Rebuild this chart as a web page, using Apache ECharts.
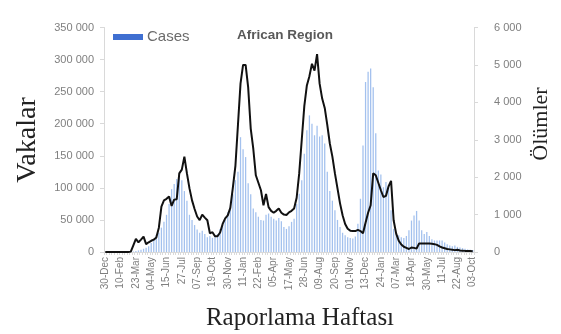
<!DOCTYPE html>
<html>
<head>
<meta charset="utf-8">
<script src="https://cdn.jsdelivr.net/npm/echarts@6/dist/echarts.min.js"></script>
<style>
html,body{margin:0;padding:0;background:#fff;}
#c{width:561px;height:334px;}
</style>
</head>
<body>
<div id="c"></div>
<script>
// Weekly reporting weeks start 30-Dec-2019, 145 weeks
const startDate = '2019-12-30';
const weekCount = 145;
const tickLabels = ['30-Dec','10-Feb','23-Mar','04-May','15-Jun','27-Jul','07-Sep','19-Oct','30-Nov','11-Jan','22-Feb','05-Apr','17-May','28-Jun','09-Aug','20-Sep','01-Nov','13-Dec','24-Jan','07-Mar','18-Apr','30-May','11-Jul','22-Aug','03-Oct'];

const cases = [
0,0,0,0,0,0,0,0,0,100,
300,800,1500,2500,3500,5000,6500,9000,14000,20000,
27000,30000,38000,47000,58000,75000,98000,106000,114000,118000,
112000,95000,80000,58000,50000,42000,35000,30000,33000,28000,
23000,25000,22000,24000,28000,36000,42000,50000,62000,70000,
90000,112000,125000,179000,160000,148000,107000,90000,68000,62000,
55000,50000,49000,58000,60000,55000,52000,49000,53000,48000,
39000,36000,40000,47000,52000,75000,91000,112000,153000,190000,
213000,200000,182000,197000,180000,182000,169000,125000,95000,80000,
65000,50000,39000,30000,26000,23000,22000,21000,24000,44000,
83000,166000,265000,281000,286000,257000,185000,127000,121000,101000,
109000,101000,65000,36000,29000,26000,23000,22000,25000,34000,
49000,57000,64000,49000,34000,28000,31000,25000,20000,18000,
18000,18000,18000,15000,12000,10000,9000,10000,8000,7000,
6000,5000,4000,3500,3000
];

const deaths = [
0,0,0,0,0,0,0,0,0,0,
10,180,350,260,330,410,210,260,300,330,
390,650,1210,1380,1420,1480,1230,1400,1410,2100,
2200,2550,2100,1700,1380,1150,950,850,1000,920,
850,500,530,420,420,520,750,900,980,1180,
1720,2300,3400,4500,5000,5000,4400,3300,2760,2050,
1850,1650,1250,1550,1200,1100,1050,1100,1160,1050,
1000,990,1060,1100,1160,1450,2100,3000,3900,4450,
4700,5030,4850,5290,4500,4100,3850,3400,2900,2550,
2100,1700,1300,980,750,620,570,560,560,590,
560,500,780,1050,1250,2100,2050,1850,1650,1470,
1500,1750,1900,850,490,300,200,140,110,80,
120,110,90,230,230,225,225,225,220,210,
190,150,120,100,80,70,60,50,60,40,
35,30,30,25,20
];

const months = ['Jan','Feb','Mar','Apr','May','Jun','Jul','Aug','Sep','Oct','Nov','Dec'];
const categories = [];
const d0 = new Date(startDate + 'T00:00:00Z');
for (let i = 0; i < weekCount; i++) {
  const d = new Date(d0.getTime() + i * 7 * 86400000);
  const dd = String(d.getUTCDate()).padStart(2, '0');
  categories.push(dd + '-' + months[d.getUTCMonth()]);
}

function spaced(v) {
  return String(v).replace(/\B(?=(\d{3})+(?!\d))/g, ' ');
}

const labelColor = '#7f7f7f';
const chart = echarts.init(document.getElementById('c'), null, {renderer: 'canvas'});
chart.setOption({
  animation: false,
  backgroundColor: '#fff',
  grid: {left: 104, right: 87, top: 27.5, bottom: 82, containLabel: false},
  legend: {show: false},
  xAxis: {
    type: 'category',
    data: categories,
    boundaryGap: true,
    axisLine: {show: true, lineStyle: {color: '#d9d9d9', width: 1}},
    axisTick: {show: true, interval: 0, length: 3, lineStyle: {color: '#d9d9d9'}},
    axisLabel: {
      interval: 5, rotate: 90, fontSize: 10, color: labelColor,
      fontFamily: 'Liberation Sans', margin: 5
    },
    splitLine: {show: false}
  },
  yAxis: [
    {
      type: 'value', min: 0, max: 350000, interval: 50000,
      axisLine: {show: true, lineStyle: {color: '#d9d9d9'}},
      axisTick: {show: true, length: 4, lineStyle: {color: '#d9d9d9'}},
      axisLabel: {color: labelColor, fontSize: 11, fontFamily: 'Liberation Sans', margin: 10, formatter: spaced},
      splitLine: {show: false}
    },
    {
      type: 'value', min: 0, max: 6000, interval: 1000,
      axisLine: {show: true, lineStyle: {color: '#d9d9d9'}},
      axisTick: {show: true, length: 4, lineStyle: {color: '#d9d9d9'}},
      axisLabel: {color: labelColor, fontSize: 11, fontFamily: 'Liberation Sans', margin: 20, formatter: spaced},
      splitLine: {show: false}
    }
  ],
  series: [
    {
      name: 'Cases', type: 'bar', data: cases, yAxisIndex: 0,
      barWidth: '50%',
      itemStyle: {color: '#a3c1ee'}
    },
    {
      name: 'Deaths', type: 'line', data: deaths, yAxisIndex: 1,
      symbol: 'none', smooth: false,
      lineStyle: {color: '#111', width: 2}
    }
  ],
  graphic: [
    {type: 'rect', left: 113, top: 34, shape: {width: 30, height: 6}, style: {fill: '#3f6fd1'}},
    {type: 'text', left: 147, top: 29, style: {text: 'Cases', fontSize: 15, fill: '#6b6b6b', fontFamily: 'Liberation Sans'}},
    {type: 'text', left: 237, top: 28, style: {text: 'African Region', fontSize: 13.5, fontWeight: 'bold', fill: '#595959', fontFamily: 'Liberation Sans'}},
    {type: 'text', x: 28, y: 140, rotation: Math.PI / 2,
      style: {text: 'Vakalar', fontSize: 28, fill: '#222', fontFamily: 'Liberation Serif', textAlign: 'center', textVerticalAlign: 'middle'}},
    {type: 'text', x: 541, y: 124, rotation: Math.PI / 2,
      style: {text: 'Ölümler', fontSize: 22, fill: '#222', fontFamily: 'Liberation Serif', textAlign: 'center', textVerticalAlign: 'middle'}},
    {type: 'text', x: 300, y: 318,
      style: {text: 'Raporlama Haftası', fontSize: 25, fill: '#222', fontFamily: 'Liberation Serif', textAlign: 'center', textVerticalAlign: 'middle'}}
  ]
});
</script>
</body>
</html>
